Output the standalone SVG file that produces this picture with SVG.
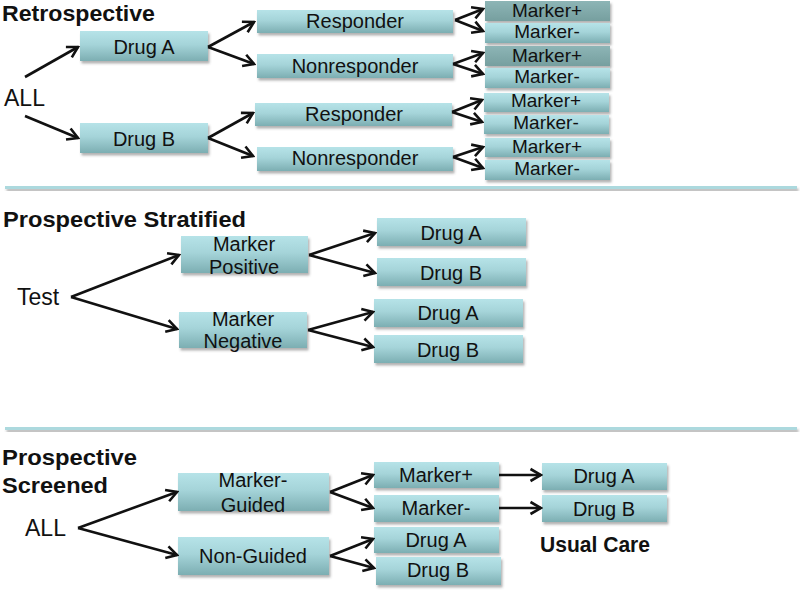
<svg xmlns="http://www.w3.org/2000/svg" width="800" height="591" viewBox="0 0 800 591">
<defs>
  <linearGradient id="g" x1="0" y1="0" x2="0" y2="1">
    <stop offset="0" stop-color="#b6e3e8"/>
    <stop offset="0.45" stop-color="#a5d4d9"/>
    <stop offset="1" stop-color="#7caeb2"/>
  </linearGradient>
  <linearGradient id="gd" x1="0" y1="0" x2="0" y2="1">
    <stop offset="0" stop-color="#8db5b6"/>
    <stop offset="1" stop-color="#769f9f"/>
  </linearGradient>
  <filter id="sh" x="-10%" y="-20%" width="125%" height="160%">
    <feDropShadow dx="1.5" dy="2.5" stdDeviation="1.2" flood-color="#555" flood-opacity="0.45"/>
  </filter>
  <marker id="ah" markerUnits="userSpaceOnUse" markerWidth="16" markerHeight="16" viewBox="0 0 16 16" refX="14" refY="8" orient="auto">
    <path d="M3.5,2 L14,8 L3.5,14" fill="none" stroke="#111" stroke-width="2.6" stroke-linejoin="miter"/>
  </marker>
</defs>
<style>
  .box { fill: url(#g); filter: url(#sh); }
  .dbox { fill: url(#gd); filter: url(#sh); }
  .t { font-family: "Liberation Sans", Arial, sans-serif; font-size: 20px; fill: #111; text-anchor: middle; }
  .m { font-family: "Liberation Sans", Arial, sans-serif; font-size: 19px; fill: #111; text-anchor: middle; }
  .lab { font-family: "Liberation Sans", Arial, sans-serif; font-size: 23px; fill: #111; }
  .h { font-family: "Liberation Sans", Arial, sans-serif; font-size: 22px; font-weight: bold; fill: #111; }
  .sep { fill: #acd9de; filter: url(#sh); }
  .c line { stroke: #111; stroke-width: 2.6; fill: none; marker-end: url(#ah); }
</style>

<!-- titles and labels -->
<text class="h" x="2" y="21" textLength="153" lengthAdjust="spacingAndGlyphs">Retrospective</text>
<text class="lab" x="4" y="106">ALL</text>
<rect class="sep" x="5" y="186" width="792" height="3"/>
<text class="h" x="3" y="227" textLength="243" lengthAdjust="spacingAndGlyphs">Prospective Stratified</text>
<text class="lab" x="17" y="305">Test</text>
<rect class="sep" x="5" y="427" width="792" height="3"/>
<text class="h" x="2" y="465" textLength="135" lengthAdjust="spacingAndGlyphs">Prospective</text>
<text class="h" x="2" y="493" textLength="106" lengthAdjust="spacingAndGlyphs">Screened</text>
<text class="lab" x="25" y="536">ALL</text>
<text class="h" x="540" y="552" textLength="110" lengthAdjust="spacingAndGlyphs">Usual Care</text>

<!-- Retrospective nodes -->
<g id="r-druga"><rect class="box" x="80" y="31" width="128" height="30"/><text class="t" x="144" y="54">Drug A</text></g>
<g id="r-drugb"><rect class="box" x="80" y="123" width="128" height="30"/><text class="t" x="144" y="146">Drug B</text></g>
<g id="r-resp1"><rect class="box" x="257" y="10" width="196" height="23"/><text class="t" x="355" y="28">Responder</text></g>
<g id="r-non1"><rect class="box" x="257" y="54" width="196" height="24"/><text class="t" x="355" y="73">Nonresponder</text></g>
<g id="r-resp2"><rect class="box" x="255" y="103" width="197" height="23"/><text class="t" x="354" y="121">Responder</text></g>
<g id="r-non2"><rect class="box" x="257" y="147" width="196" height="24"/><text class="t" x="355" y="165">Nonresponder</text></g>
<g id="r-mp1"><rect class="dbox" x="485" y="1" width="125" height="20"/><text class="m" x="547" y="17">Marker+</text></g>
<g id="r-mm1"><rect class="box" x="485" y="23" width="125" height="20"/><text class="m" x="547" y="38">Marker-</text></g>
<g id="r-mp2"><rect class="dbox" x="485" y="46" width="125" height="20"/><text class="m" x="547" y="62">Marker+</text></g>
<g id="r-mm2"><rect class="box" x="485" y="68" width="125" height="20"/><text class="m" x="547" y="83">Marker-</text></g>
<g id="r-mp3"><rect class="box" x="484" y="93" width="125" height="19"/><text class="m" x="546" y="107">Marker+</text></g>
<g id="r-mm3"><rect class="box" x="484" y="115" width="125" height="19"/><text class="m" x="546" y="129">Marker-</text></g>
<g id="r-mp4"><rect class="box" x="485" y="138" width="125" height="19"/><text class="m" x="547" y="153">Marker+</text></g>
<g id="r-mm4"><rect class="box" x="485" y="160" width="125" height="20"/><text class="m" x="547" y="175">Marker-</text></g>

<!-- Prospective stratified nodes -->
<g id="s-pos"><rect class="box" x="181" y="236" width="127" height="37"/><text class="t" x="244" y="251">Marker</text><text class="t" x="244" y="274">Positive</text></g>
<g id="s-neg"><rect class="box" x="179" y="312" width="128" height="36"/><text class="t" x="243" y="326">Marker</text><text class="t" x="243" y="348">Negative</text></g>
<g id="s-a1"><rect class="box" x="377" y="218" width="149" height="28"/><text class="t" x="451" y="240">Drug A</text></g>
<g id="s-b1"><rect class="box" x="377" y="258" width="149" height="28"/><text class="t" x="451" y="280">Drug B</text></g>
<g id="s-a2"><rect class="box" x="374" y="299" width="149" height="28"/><text class="t" x="448" y="320">Drug A</text></g>
<g id="s-b2"><rect class="box" x="374" y="335" width="149" height="28"/><text class="t" x="448" y="357">Drug B</text></g>

<!-- Prospective screened nodes -->
<g id="p-guided"><rect class="box" x="178" y="473" width="151" height="38"/><text class="t" x="253" y="487">Marker-</text><text class="t" x="253" y="512">Guided</text></g>
<g id="p-nonguided"><rect class="box" x="178" y="537" width="151" height="38"/><text class="t" x="253" y="563">Non-Guided</text></g>
<g id="p-mp"><rect class="box" x="374" y="462" width="125" height="26"/><text class="t" x="436" y="482">Marker+</text></g>
<g id="p-mm"><rect class="box" x="374" y="495" width="125" height="27"/><text class="t" x="436" y="515">Marker-</text></g>
<g id="p-a"><rect class="box" x="374" y="527" width="125" height="26"/><text class="t" x="436" y="547">Drug A</text></g>
<g id="p-b"><rect class="box" x="376" y="557" width="125" height="28"/><text class="t" x="438" y="577">Drug B</text></g>
<g id="p-ua"><rect class="box" x="542" y="463" width="125" height="27"/><text class="t" x="604" y="483">Drug A</text></g>
<g id="p-ub"><rect class="box" x="542" y="495" width="125" height="27"/><text class="t" x="604" y="516">Drug B</text></g>

<!-- connectors -->
<g id="connectors" class="c">
  <line x1="25" y1="77" x2="78" y2="47"/>
  <line x1="25" y1="116" x2="78" y2="138"/>
  <line x1="208" y1="47" x2="254" y2="22"/>
  <line x1="208" y1="47" x2="254" y2="64"/>
  <line x1="208" y1="138" x2="253" y2="113"/>
  <line x1="208" y1="138" x2="253" y2="156"/>
  <line x1="455" y1="20" x2="483" y2="9"/>
  <line x1="455" y1="20" x2="483" y2="31"/>
  <line x1="453" y1="64" x2="483" y2="53"/>
  <line x1="453" y1="64" x2="483" y2="74"/>
  <line x1="452" y1="112" x2="482" y2="100"/>
  <line x1="452" y1="112" x2="482" y2="122"/>
  <line x1="453" y1="157" x2="483" y2="147"/>
  <line x1="453" y1="157" x2="483" y2="168"/>

  <line x1="71" y1="297" x2="179" y2="255"/>
  <line x1="71" y1="297" x2="177" y2="329"/>
  <line x1="309" y1="255" x2="375" y2="233"/>
  <line x1="309" y1="255" x2="375" y2="273"/>
  <line x1="308" y1="330" x2="373" y2="312"/>
  <line x1="308" y1="330" x2="373" y2="347"/>

  <line x1="78" y1="528" x2="177" y2="492"/>
  <line x1="78" y1="528" x2="177" y2="555"/>
  <line x1="330" y1="492" x2="373" y2="475"/>
  <line x1="330" y1="492" x2="373" y2="508"/>
  <line x1="330" y1="556" x2="373" y2="539"/>
  <line x1="330" y1="556" x2="374" y2="568"/>
  <line x1="499" y1="475" x2="541" y2="475"/>
  <line x1="499" y1="508" x2="541" y2="508"/>
</g>
</svg>
